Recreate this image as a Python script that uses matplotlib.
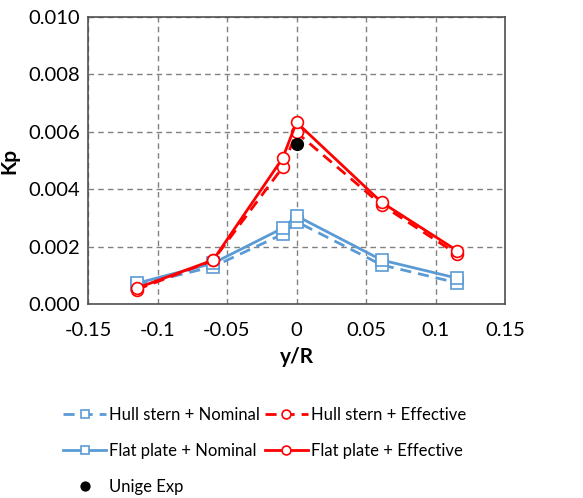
import matplotlib.pyplot as plt
import matplotlib.lines as mlines

plt.rcParams['font.family'] = ['Lato', 'DejaVu Sans']

# Radial stations y/R
y_r = [-0.115, -0.06, -0.01, 0.0, 0.0613, 0.1155]

# Kp for each wake / geometry combination
hull_nominal = [0.00066, 0.00130, 0.00243, 0.00287, 0.00136, 0.00074]
hull_effective = [0.00050, 0.00152, 0.00476, 0.00598, 0.00345, 0.00174]
flat_nominal = [0.00072, 0.00142, 0.00264, 0.00307, 0.00153, 0.00090]
flat_effective = [0.00055, 0.00153, 0.00508, 0.00633, 0.00354, 0.00186]

# Experiment
exp_x = [0.0]
exp_kp = [0.00557]

blue = '#5b9bd5'
red = '#ff0000'

fig = plt.figure(figsize=(5.83, 4.98), dpi=100)
ax = fig.add_axes([88/583, 1 - 304/498, 417/583, 287/498])

ax.plot(y_r, hull_nominal, color=blue, lw=2, ls=(0, (4, 2.5)), marker='s', ms=8.5,
        mfc='white', mec=blue, mew=1.2, label='Hull stern + Nominal')
ax.plot(y_r, flat_nominal, color=blue, lw=2, marker='s', ms=8.5,
        mfc='white', mec=blue, mew=1.2, label='Flat plate + Nominal')
ax.plot(y_r, hull_effective, color=red, lw=2, ls=(0, (4, 2.5)), marker='o', ms=8.5,
        mfc='white', mec=red, mew=1.2, label='Hull stern + Effective')
ax.plot(y_r, flat_effective, color=red, lw=2, marker='o', ms=8.5,
        mfc='white', mec=red, mew=1.2, label='Flat plate + Effective')
ax.plot(exp_x, exp_kp, ls='none', marker='o', ms=8.5, color='black', label='Unige Exp')

ax.set_xlim(-0.15, 0.15)
ax.set_ylim(0, 0.010)
ax.set_xticks([-0.15, -0.1, -0.05, 0, 0.05, 0.1, 0.15])
ax.set_xticklabels(['-0.15', '-0.1', '-0.05', '0', '0.05', '0.1', '0.15'])
ax.set_yticks([0, 0.002, 0.004, 0.006, 0.008, 0.010])
ax.set_yticklabels(['0.000', '0.002', '0.004', '0.006', '0.008', '0.010'])
ax.tick_params(labelsize=14.5, length=0)
ax.tick_params(axis='x', pad=13)
ax.tick_params(axis='y', pad=6)
ax.grid(True, color='#808080', ls=(0, (4, 3)), lw=1)
ax.set_axisbelow(True)
for s in ax.spines.values():
    s.set_color('#505050')
    s.set_linewidth(1.2)

ax.set_xlabel('y/R', fontsize=15, fontweight='bold', labelpad=6)
ax.set_ylabel('Kp', fontsize=15, fontweight='bold', labelpad=6)

h, l = ax.get_legend_handles_labels()
blank = mlines.Line2D([], [], ls='none')
order = [h[0], h[1], h[4], h[2], h[3], blank]
labels = [l[0], l[1], l[4], l[2], l[3], '']
fig.legend(order, labels, ncol=2, loc='upper left', bbox_to_anchor=(48/583, 1 - 392/498),
           frameon=False, fontsize=12, handlelength=2.6, handletextpad=0.15,
           columnspacing=0.3, labelspacing=1.2, markerscale=0.75)

fig.savefig('out.png', dpi=100)
